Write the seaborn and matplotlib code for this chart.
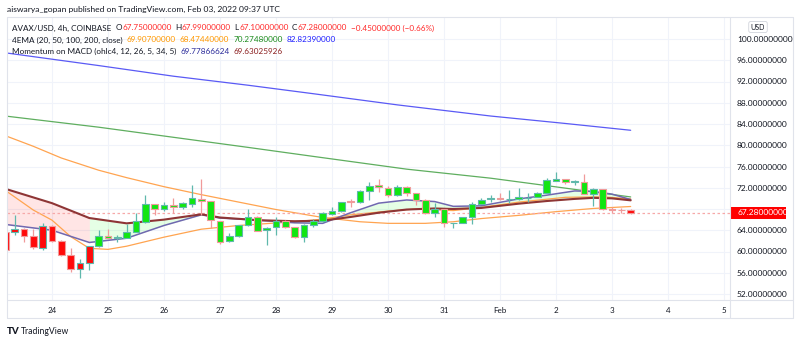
import numpy as np
import pandas as pd
import matplotlib
matplotlib.use("Agg")
import matplotlib.pyplot as plt
import matplotlib.dates as mdates
import matplotlib.transforms as mtransforms
from matplotlib.lines import Line2D
from matplotlib.patches import Rectangle
import seaborn as sns

# ---------------- data ----------------
first_candle = "2022-01-23 04:00"
opens = [63.7, 63.7, 64.3, 63.0, 60.6, 64.8, 62.0, 59.3, 56.8, 57.9,
         61.0, 63.0, 62.5, 62.6, 63.6, 65.6, 69.0, 68.0, 68.8, 68.45,
         69.0, 69.8, 69.5, 65.8, 61.97, 63.0, 65.0, 66.56, 64.0, 64.67,
         65.74, 64.55, 62.67, 65.0, 65.74, 67.05, 67.7, 69.5, 69.3, 71.45,
         72.5, 71.9, 70.6, 72.08, 70.95, 69.7, 67.2, 67.94, 65.3, 65.43,
         66.56, 68.94, 69.8, 70.0, 69.8, 69.8, 70.0, 70.2, 70.95, 73.3,
         73.65, 73.1, 73.14, 70.83, 71.8, 67.94, 67.8, 67.75]
highs = [64.0, 66.9, 64.4, 64.2, 65.3, 65.0, 62.1, 60.6, 58.5, 61.1,
         64.05, 64.2, 63.1, 65.1, 67.2, 70.6, 69.0, 69.25, 70.0, 69.4,
         72.6, 73.6, 69.5, 65.8, 63.4, 65.0, 68.0, 66.6, 64.6, 66.56,
         65.9, 64.6, 65.2, 66.2, 67.5, 68.3, 69.4, 69.8, 71.6, 73.1,
         73.65, 72.4, 72.5, 72.4, 71.0, 69.8, 69.07, 68.0, 65.43, 66.56,
         69.38, 70.1, 70.6, 70.95, 71.57, 72.0, 71.0, 71.26, 73.8, 75.0,
         73.7, 73.46, 74.5, 71.9, 71.8, 68.44, 68.25, 67.99]
lows = [60.0, 63.1, 61.85, 60.5, 60.3, 61.85, 59.15, 56.2, 55.1, 56.5,
        60.8, 62.5, 61.7, 62.5, 63.6, 65.4, 66.9, 67.6, 67.3, 68.0,
        68.3, 66.9, 64.4, 61.4, 61.7, 62.8, 64.8, 63.9, 61.2, 63.1,
        64.4, 62.5, 61.85, 64.7, 65.6, 66.9, 67.5, 68.4, 69.07, 69.7,
        71.26, 70.3, 70.45, 70.45, 68.75, 67.06, 66.56, 64.7, 64.36, 65.3,
        65.18, 68.9, 69.3, 69.7, 69.07, 69.7, 69.4, 70.2, 70.95, 73.3,
        72.8, 72.5, 70.76, 68.6, 67.8, 67.2, 67.2, 67.10]
closes = [60.3, 64.3, 63.0, 60.9, 64.8, 62.0, 59.3, 56.8, 57.9, 61.0,
          63.0, 62.6, 62.7, 63.6, 65.7, 68.9, 68.0, 68.8, 68.45, 69.07,
          70.0, 69.5, 65.9, 61.85, 63.0, 65.0, 66.56, 63.92, 64.5, 65.74,
          64.55, 62.67, 65.0, 65.74, 67.18, 67.7, 69.4, 69.3, 71.4, 72.4,
          72.1, 70.6, 72.08, 70.95, 69.7, 67.2, 67.94, 65.3, 65.4, 66.43,
          68.88, 69.75, 70.0, 69.8, 69.85, 70.3, 70.05, 70.95, 73.46, 73.65,
          73.0, 73.2, 70.76, 71.8, 67.94, 67.8, 67.75, 67.28]
# momentum state per candle (True -> green body, False -> red body)
body_green = [False] * 10 + [True] * 55 + [False] * 3

# EMA lines, read at selected candle indices
ema200_idx = [0, 10, 18, 26, 33, 42, 52, 60, 67]
ema200_val = [97.4, 95.0, 93.0, 91.3, 89.7, 87.6, 85.5, 84.1, 82.82]
ema100_idx = [0, 10, 18, 26, 33, 43, 52, 58, 67]
ema100_val = [85.5, 83.4, 81.5, 79.6, 77.9, 75.5, 73.8, 72.4, 70.27]
ema50_idx = [0, 3, 6, 10, 13, 17, 21, 25, 29, 34, 38, 41, 45, 48, 51, 55, 59, 63, 67]
ema50_val = [81.8, 79.8, 77.6, 75.3, 73.9, 72.2, 70.7, 69.3, 67.9, 66.4, 65.6, 65.3,
             65.3, 65.6, 66.2, 66.8, 67.5, 68.1, 68.47]
ema20_idx = [0, 3, 5, 7, 9, 11, 13, 17, 21, 25, 31, 34, 37, 41, 44, 48, 51, 55, 60, 64, 67]
ema20_val = [71.5, 67.8, 65.9, 62.8, 60.6, 60.4, 61.0, 62.7, 64.2, 64.9, 65.6, 66.1,
             66.9, 67.6, 68.0, 67.7, 68.3, 69.3, 70.2, 70.3, 69.9]

# Momentum on MACD lines
mom_idx = [0, 5, 9, 13, 17, 21, 23, 27, 31, 34, 37, 40, 43, 46, 48, 51, 55, 58, 61, 63, 65, 67]
mom_slow = [71.8, 69.1, 66.3, 65.3, 66.0, 67.0, 66.4, 65.9, 65.7, 65.8, 66.5,
            67.3, 67.9, 68.1, 68.0, 68.2, 69.0, 69.5, 69.9, 70.1, 70.0, 69.63]
mom_fast = [65.1, 64.0, 61.7, 62.5, 64.9, 66.9, 66.3, 65.9, 65.4, 65.3, 67.3,
            69.1, 69.7, 69.4, 68.5, 68.6, 69.9, 70.6, 71.4, 71.3, 70.8, 69.78]
fill_switch_idx = 9  # pink fill up to here, green after

last_price = 67.28
price_ticks = list(range(52, 101, 4))
day_ticks = pd.date_range("2022-01-24", "2022-02-05", freq="D")
day_labels = ["24", "25", "26", "27", "28", "29", "30", "31", "Feb", "2", "3", "4", "5"]

# ---------------- style ----------------
sns.set_theme(style="white")
plt.rcParams["font.family"] = ["Lato", "DejaVu Sans"]
TXT = "#131722"
BORDER = "#e0e3eb"
GRID = "#f0f3fa"
UP_EDGE = "#5fb8ac"
DN_EDGE = "#f09a9a"
BODY_G = "#11e611"
BODY_R = "#ff0a0a"

W, H = 800, 343
fig = plt.figure(figsize=(W / 100, H / 100), dpi=100)
fig.patch.set_facecolor("white")
L, R, T, B = 7, 730, 17, 300
ax = fig.add_axes([L / W, 1 - B / H, (R - L) / W, (B - T) / H])
ax.set_facecolor("white")

times = pd.date_range(first_candle, periods=len(opens), freq="4h")
x = mdates.date2num(times)
o = np.array(opens); c = np.array(closes); hi = np.array(highs); lo = np.array(lows)
up = c >= o
edge_cols = [UP_EDGE if u else DN_EDGE for u in up]
body_cols = [BODY_G if g else BODY_R for g in body_green]

# fill between momentum lines
mx = x[mom_idx]
ms = np.array(mom_slow); mf = np.array(mom_fast)
k = mom_idx.index(fill_switch_idx)
ax.fill_between(mx[:k + 1], ms[:k + 1], mf[:k + 1], color="#ff0000", alpha=0.1, lw=0, zorder=1)
ax.fill_between(mx[k:], ms[k:], mf[k:], color="#00ff00", alpha=0.1, lw=0, zorder=1)

# EMA lines
sns.lineplot(x=x[ema200_idx], y=ema200_val, ax=ax, color="#5a5af5", lw=0.9, zorder=2)
sns.lineplot(x=x[ema100_idx], y=ema100_val, ax=ax, color="#5fae5f", lw=0.9, zorder=2)
sns.lineplot(x=x[ema50_idx], y=ema50_val, ax=ax, color="#ffa450", lw=0.9, zorder=2)
sns.lineplot(x=x[ema20_idx], y=ema20_val, ax=ax, color="#ffa450", lw=0.9, zorder=2)

# momentum lines
sns.lineplot(x=mx, y=mom_fast, ax=ax, color="#7068b0", lw=1.1, zorder=3)
sns.lineplot(x=mx, y=mom_slow, ax=ax, color="#8e3535", lw=1.5, zorder=3)

# last price line
ax.axhline(last_price, color="#f7a8a8", lw=0.9, ls=(0, (2, 2)), zorder=2)

# candles
bw = (4 / 24) * 0.68
ax.vlines(x, lo, hi, colors=edge_cols, lw=0.9, zorder=4)
heights = np.maximum(np.abs(c - o), 0.06)
ax.bar(x, heights, bottom=np.minimum(o, c), width=bw, color=body_cols,
       edgecolor=edge_cols, linewidth=0.8, zorder=5)

# axes limits
d24 = mdates.date2num(pd.Timestamp("2022-01-24"))
px_per_day = 56.0
ax.set_xlim(d24 - (52 - L) / px_per_day, d24 + (R - 52) / px_per_day)
ppu = 5.3125
ax.set_ylim(100 - (B - 39) / ppu, 100 + (39 - T) / ppu)

ax.set_xticks(mdates.date2num(day_ticks))
ax.set_xticklabels(day_labels)
ax.set_yticks(price_ticks)
# the 68 label sits behind the last-price tag
ax.set_yticklabels(["" if abs(v - last_price) < 1.5 else f"{v:.8f}" for v in price_ticks])
ax.yaxis.tick_right()
ax.tick_params(axis="y", length=0, pad=5, labelsize=6.0, labelcolor=TXT)
ax.tick_params(axis="x", length=0, pad=5, labelsize=5.8, labelcolor=TXT)
for lab in ax.get_yticklabels():
    lab.set_horizontalalignment("left")
ax.grid(True, color=GRID, lw=0.8)
for s in ax.spines.values():
    s.set_visible(False)

# last price label
trans = mtransforms.blended_transform_factory(ax.transAxes, ax.transData)
bh = 12 / ppu
ax.add_patch(Rectangle((1.0, last_price - bh / 2), 56 / (R - L), bh, transform=trans,
                       facecolor="#ff0000", edgecolor="none", clip_on=False, zorder=10))
ax.text(1.0 + 7 / (R - L), last_price, f"{last_price:.8f}", transform=trans, color="white",
        fontsize=6.0, va="center", ha="left", clip_on=False, zorder=11)

# frame lines
def fline(x0, y0, x1, y1):
    fig.add_artist(Line2D([x0 / W, x1 / W], [1 - y0 / H, 1 - y1 / H], color=BORDER, lw=0.8))

fline(7, 17, 793, 17)
fline(7, 318, 793, 318)
fline(7, 17, 7, 318)
fline(793, 17, 793, 318)
fline(730, 17, 730, 318)
fline(7, 300, 793, 300)

# USD box
fig.text(758 / W, 1 - 27 / H, "USD", ha="center", va="center", fontsize=5, color=TXT,
         bbox=dict(boxstyle="round,pad=0.3", fc="white", ec="#d1d4dc", lw=0.6))

# header
fig.text(7 / W, 1 - 9 / H, "aiswarya_gopan published on TradingView.com, Feb 03, 2022 09:37 UTC",
         fontsize=6.1, color=TXT, va="center", ha="left")

renderer = fig.canvas.get_renderer()

def run(xp, yp, pieces, size=5.9):
    for s, col, gap in pieces:
        t = fig.text(xp / W, 1 - yp / H, s, color=col, fontsize=size, va="center", ha="left")
        xp += t.get_window_extent(renderer).width + gap

RED = "#ff2a2a"
run(12, 28, [("AVAX/USD, 4h, COINBASE", TXT, 4), ("O", TXT, 0.5), ("67.75000000", RED, 3.5),
             ("H", TXT, 0.5), ("67.99000000", RED, 3.5), ("L", TXT, 0.5), ("67.10000000", RED, 3.5),
             ("C", TXT, 0.5), ("67.28000000", RED, 4), ("\u22120.45000000 (\u22120.66%)", RED, 0)])
run(12, 40, [("4EMA (20, 50, 100, 200, close)", TXT, 4), ("69.90700000", "#ff9800", 4),
             ("68.47440000", "#ff9800", 4), ("70.27480000", "#1b8a1b", 4), ("82.82390000", "#1f1fff", 0)])
run(12, 51, [("Momentum on MACD (ohlc4, 12, 26, 5, 34, 5)", TXT, 4), ("69.77866624", "#2b2b9a", 4),
             ("69.63025926", "#8b1e1e", 0)])

# TradingView logo
fig.text(7 / W, 1 - 332 / H, "TV", fontsize=7, fontweight="black", color=TXT, va="center", ha="left")
fig.text(21 / W, 1 - 332 / H, "TradingView", fontsize=6.2, color=TXT, va="center", ha="left")

fig.savefig("out.png", dpi=100, facecolor="white")
